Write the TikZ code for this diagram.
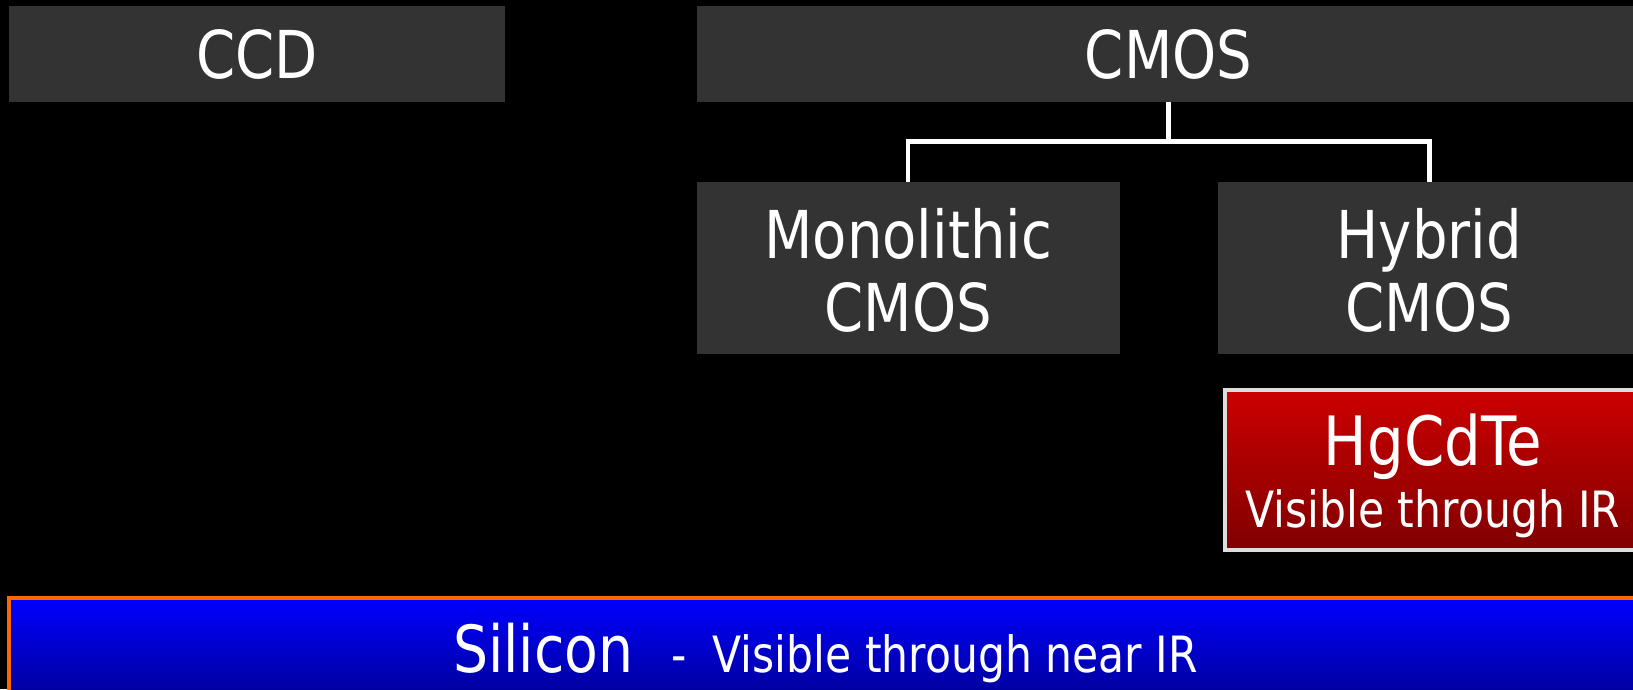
\documentclass[tikz,border=0pt]{standalone}
\usepackage{fontspec}
\setmainfont[FakeStretch=0.85]{DejaVu Sans}
\definecolor{boxgrey}{HTML}{333333}
\definecolor{redtop}{HTML}{CC0000}
\definecolor{redbot}{HTML}{800000}
\definecolor{bluetop}{HTML}{0000FF}
\definecolor{bluebot}{HTML}{000099}
\definecolor{siorange}{HTML}{FF6600}
\definecolor{hgborder}{HTML}{DDDDDD}
\begin{document}
\begin{tikzpicture}[x=1pt,y=-1pt,
  graybox/.style={fill=boxgrey, inner sep=0pt, outer sep=0pt, text=white, align=center},
  bigfont/.style={font=\fontsize{66}{73}\selectfont},
  onebox/.style={graybox, bigfont, minimum height=96pt, text height=48pt, text depth=-4pt},
  twobox/.style={graybox, bigfont, minimum height=172pt, text height=125.6pt, text depth=0pt},
  hgbox/.style={draw=hgborder, line width=4pt, top color=redtop, bottom color=redbot,
    inner sep=0pt, outer sep=0pt, text=white, align=center,
    minimum width=416pt, minimum height=160pt,
    font=\fontsize{68}{62}\selectfont, text height=114pt, text depth=0pt},
  sibox/.style={draw=siorange, line width=4pt, top color=bluetop, bottom color=bluebot,
    inner sep=0pt, outer sep=0pt, text=white,
    minimum width=1633pt, minimum height=100pt,
    font=\fontsize{65}{73}\selectfont, text height=48pt, text depth=0pt},
  conn/.style={draw=white, line width=4.5pt, line join=miter},
]
\useasboundingbox (0,0) rectangle (1633,689);
\fill[black] (0,0) rectangle (1633,689);
\begin{scope}
\clip (0,0) rectangle (1633,689);
\node[onebox, minimum width=496pt] (ccd) at (257,54) {CCD};
\node[onebox, minimum width=943pt] (cmos) at (1168.5,54) {CMOS};
\node[twobox, minimum width=423pt] (mono) at (908.2,268.2) {Monolithic\\CMOS};
\node[twobox, minimum width=423.5pt] (hyb) at (1429.25,268.2) {Hybrid\\CMOS};
\node[hgbox] (hg) at (1433,470) {HgCdTe\\{\fontsize{50}{62}\selectfont Visible through IR}};
\node[sibox] (si) at (825.5,648) {Silicon\hspace{38pt}{\fontsize{50}{60}\selectfont -\hspace{26pt}Visible through near IR}};
\coordinate (j) at (1168.5,141.6);
\draw[conn] (cmos.south) -- (j);
\draw[conn] (mono.north) |- (j) -| (hyb.north);
\end{scope}
\end{tikzpicture}
\end{document}
